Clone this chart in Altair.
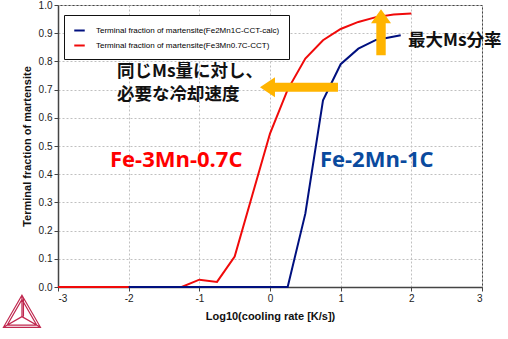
import altair as alt
import pandas as pd

# ---- data ----
red_name = "Terminal fraction of martensite(Fe3Mn0.7C-CCT)"
blue_name = "Terminal fraction of martensite(Fe2Mn1C-CCT-calc)"

red_x = [-3, -2, -1.25, -1.0, -0.75, -0.5, -0.25, 0.0, 0.25, 0.5, 0.75, 1.0, 1.25, 1.5, 1.75, 2.0]
red_y = [0, 0, 0, 0.026, 0.018, 0.108, 0.326, 0.544, 0.70, 0.81, 0.875, 0.915, 0.94, 0.957, 0.966, 0.97]

blue_x = [-2, 0.0, 0.25, 0.5, 0.75, 1.0, 1.25, 1.5, 1.85]
blue_y = [0, 0, 0, 0.26, 0.662, 0.79, 0.845, 0.876, 0.893]

x_ticks = [-3, -2, -1, 0, 1, 2, 3]
y_ticks = [0.0, 0.1, 0.2, 0.3, 0.4, 0.5, 0.6, 0.7, 0.8, 0.9, 1.0]

RED = "#f00a0a"
BLUE = "#00107f"

red_df = pd.DataFrame({"x": red_x, "y": red_y, "series": red_name})
blue_df = pd.DataFrame({"x": blue_x, "y": blue_y, "series": blue_name})

xs = alt.Scale(domain=[-3, 3], nice=False, zero=False)
ys = alt.Scale(domain=[0, 1], nice=False)
color = alt.Color(
    "series:N",
    scale=alt.Scale(domain=[blue_name, red_name], range=[BLUE, RED]),
    legend=alt.Legend(title=None, orient="none", legendX=6, legendY=10),
)

xaxis = alt.Axis(values=x_ticks, labelExpr="'' + datum.value", labelOverlap=False,
                 title="Log10(cooling rate [K/s])")
yaxis = alt.Axis(values=y_ticks, format=".1f", labelOverlap=False,
                 title="Terminal fraction of martensite")
xenc = alt.X("x:Q", scale=xs, axis=xaxis)
yenc = alt.Y("y:Q", scale=ys, axis=yaxis)

red_line = alt.Chart(red_df).mark_line(strokeWidth=2).encode(x=xenc, y=yenc, color=color)
blue_line = alt.Chart(blue_df).mark_line(strokeWidth=2).encode(x=xenc, y=yenc, color=color)

# ---- annotations ----
jp_df = pd.DataFrame({
    "x": [-2.165, -2.165, 1.953],
    "y": [0.761, 0.680, 0.871],
    "t": ["同じMs量に対し、", "必要な冷却速度", "最大Ms分率"],
})
jp_text = alt.Chart(jp_df).mark_text(
    align="left", baseline="middle", font="Noto Sans CJK JP", fontWeight="bold",
    fontSize=17.5, color="#111111"
).encode(x=xenc, y=yenc, text="t:N")

fe_df = pd.DataFrame({
    "x": [-2.264, 0.707],
    "y": [0.449, 0.449],
    "t": ["Fe-3Mn-0.7C", "Fe-2Mn-1C"],
    "c": ["#ff0000", "#0a4a9e"],
})
fe_text = alt.Chart(fe_df).mark_text(
    align="left", baseline="middle", font="Open Sans", fontWeight="bold", fontSize=22
).encode(x=xenc, y=yenc, text="t:N", color=alt.Color("c:N", scale=None))

ARROW_H = "M-3.9,0L-2.4,-1L-2.4,-0.45L3.9,-0.45L3.9,0.45L-2.4,0.45L-2.4,1Z"
ARROW_V = "M0,-2.3L1,-0.9L0.47,-0.9L0.47,2.3L-0.47,2.3L-0.47,-0.9L-1,-0.9Z"
arrow_h = alt.Chart(pd.DataFrame({"x": [0.41], "y": [0.708]})).mark_point(
    shape=ARROW_H, filled=True, fill="#ffb400", strokeWidth=0, opacity=1, size=400
).encode(x=xenc, y=yenc)
arrow_v = alt.Chart(pd.DataFrame({"x": [1.571], "y": [0.903]})).mark_point(
    shape=ARROW_V, filled=True, fill="#ffb400", strokeWidth=0, opacity=1, size=400
).encode(x=xenc, y=yenc)

LOGO = ("M0,-1.155L1,0.577L-1,0.577Z M0,-0.924L0.8,0.462L-0.8,0.462Z "
        "M0,0L0,-1.155 M0,0L1,0.577 M0,0L-1,0.577 M0.08,0L0.08,-1.0")
logo = alt.Chart(pd.DataFrame({"x": [-3.51], "y": [-0.105]})).mark_point(
    shape=LOGO, filled=False, stroke="#c0284f", strokeWidth=1.2, opacity=1, size=1369
).encode(x=xenc, y=yenc)

chart = alt.layer(red_line, blue_line, arrow_h, arrow_v, jp_text, fe_text, logo).properties(
    width=424, height=282,
    autosize=alt.AutoSizeParams(type="none"),
    padding={"left": 58, "top": 5, "right": 26, "bottom": 52},
).configure_view(
    stroke="#444444", strokeWidth=1
).configure_axis(
    labelFont="Liberation Sans", labelFontSize=10, labelColor="#222222",
    titleFont="Liberation Sans", titleFontSize=11, titleFontWeight="bold", titleColor="#111111",
    domainColor="#444444", domainWidth=1.5, tickColor="#444444", tickSize=4,
    gridColor="#c0c0c0", gridDash=[2, 2], gridWidth=1,
).configure_axisY(
    titlePadding=6
).configure_axisX(
    titlePadding=7
).configure_legend(
    strokeColor="#111111", strokeWidth=1, fillColor="white", padding=9,
    symbolType="stroke", symbolStrokeWidth=2, symbolSize=110,
    labelFont="Liberation Sans", labelFontSize=8, labelColor="#000000",
    labelLimit=300, rowPadding=4, labelOffset=10, cornerRadius=0,
)

chart.save("out.html", embed_options={"renderer": "svg", "actions": False})
